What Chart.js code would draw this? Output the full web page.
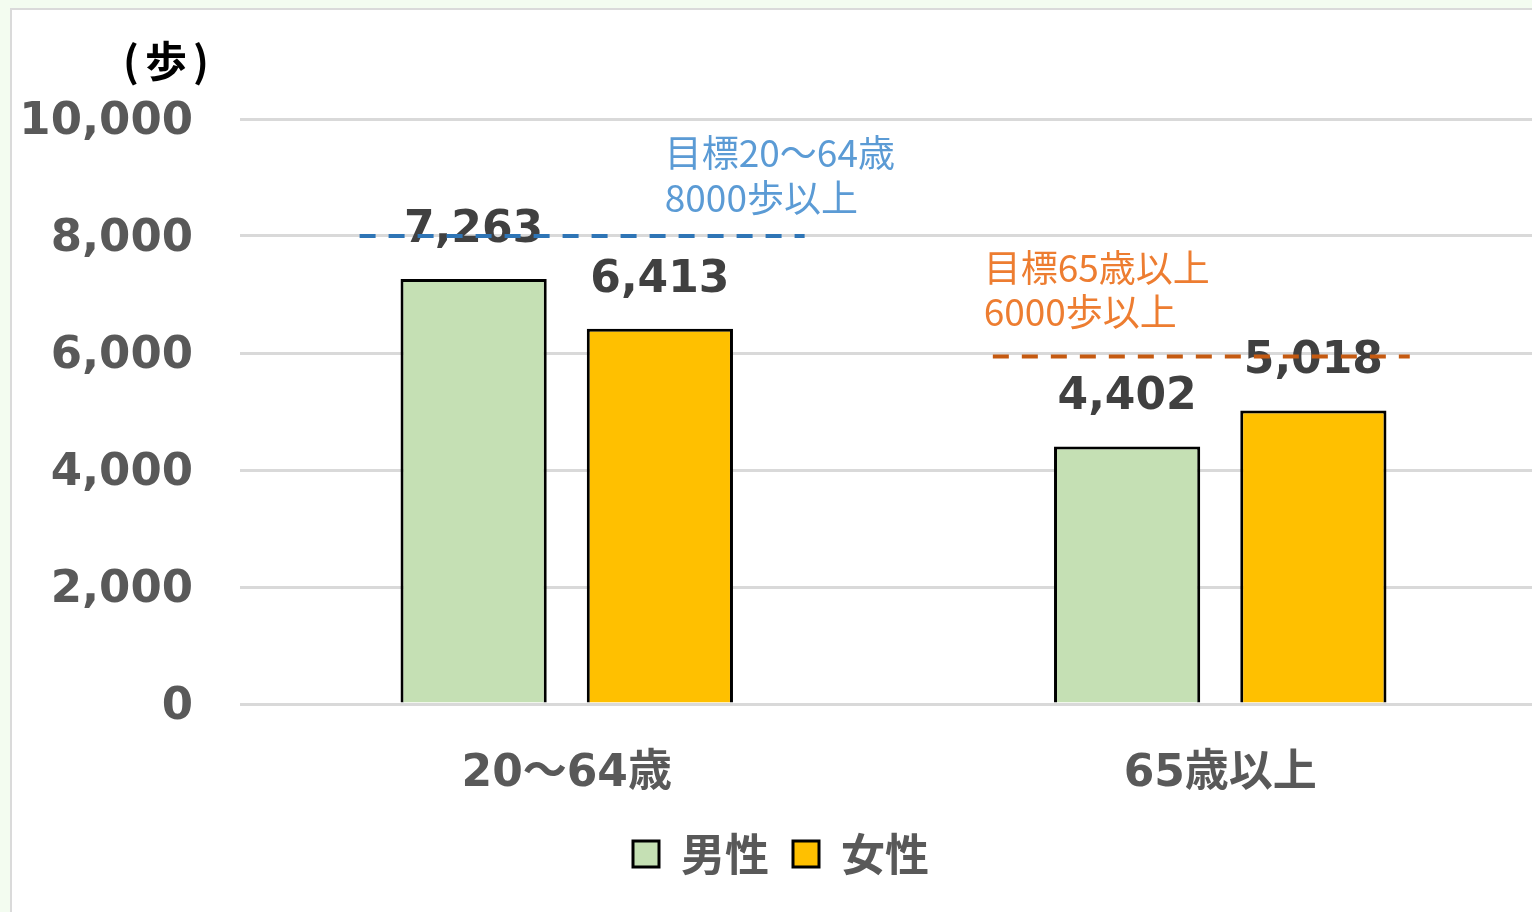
<!DOCTYPE html>
<html>
<head>
<meta charset="utf-8">
<script src="https://cdn.jsdelivr.net/npm/chart.js@4.4.1/dist/chart.umd.min.js"></script>
<style>
  html, body { margin: 0; padding: 0; width: 1532px; height: 912px; overflow: hidden; background: #f3fcf0; }
  #panel { position: absolute; left: 10px; top: 8px; width: 1600px; height: 1000px; background: #ffffff; border: 2px solid #dadada; box-sizing: border-box; }
  #wrap { position: absolute; left: 0; top: 0; width: 1560px; height: 912px; }
</style>
</head>
<body>
<div id="panel"></div>
<div id="wrap"><canvas id="c"></canvas></div>
<script>
// ---- data ----
const categories = ['20〜64歳', '65歳以上'];
const seriesNames = ['男性', '女性'];
const maleSteps = [7263, 4402];
const femaleSteps = [6413, 5018];
const yTickStep = 2000;
const yMax = 10000;
const axisUnit = '(歩)';
// target lines: x in category-index units, y in steps
const target1Line = [{ x: -0.317, y: 8000 }, { x: 0.364, y: 8000 }];
const target2Line = [{ x: 0.652, y: 5940 }, { x: 1.29, y: 5940 }];
const target1Text = ['目標20〜64歳', '8000歩以上'];
const target2Text = ['目標65歳以上', '6000歩以上'];
const target1TextPos = [{ x: 0.150, y: 9418 }, { x: 0.150, y: 8647 }];
const target2TextPos = [{ x: 0.638, y: 7449 }, { x: 0.638, y: 6695 }];

const BOLD_FONT = '"DejaVu Sans", "Noto Sans CJK JP", sans-serif';
const CJK_FONT = '"Noto Sans CJK JP", "DejaVu Sans", sans-serif';

function xPix(chart, v) {
  const xs = chart.scales.x;
  const p0 = xs.getPixelForValue(0), p1 = xs.getPixelForValue(1);
  return p0 + v * (p1 - p0);
}

const overlayPlugin = {
  id: 'overlay',
  afterDatasetsDraw(chart) {
    const ctx = chart.ctx;
    const ys = chart.scales.y;
    ctx.save();
    // value labels
    ctx.font = 'bold 44px ' + BOLD_FONT;
    ctx.fillStyle = '#404040';
    ctx.textAlign = 'center';
    ctx.textBaseline = 'alphabetic';
    chart.data.datasets.forEach((ds, di) => {
      const meta = chart.getDatasetMeta(di);
      meta.data.forEach((bar, i) => {
        ctx.fillText(ds.data[i].toLocaleString('en-US'), bar.x, bar.y - 37);
      });
    });
    // target lines
    const drawLine = (pts, color) => {
      ctx.beginPath();
      ctx.setLineDash([16, 13]);
      ctx.lineWidth = 4;
      ctx.strokeStyle = color;
      ctx.moveTo(xPix(chart, pts[0].x), ys.getPixelForValue(pts[0].y));
      ctx.lineTo(xPix(chart, pts[1].x), ys.getPixelForValue(pts[1].y));
      ctx.stroke();
      ctx.setLineDash([]);
    };
    drawLine(target1Line, '#2e75b6');
    drawLine(target2Line, '#c55a11');
    // target texts
    ctx.font = '37px ' + CJK_FONT;
    ctx.textAlign = 'left';
    ctx.textBaseline = 'middle';
    ctx.fillStyle = '#5b9bd5';
    target1Text.forEach((t, i) => ctx.fillText(t, xPix(chart, target1TextPos[i].x), ys.getPixelForValue(target1TextPos[i].y)));
    ctx.fillStyle = '#ed7d31';
    target2Text.forEach((t, i) => ctx.fillText(t, xPix(chart, target2TextPos[i].x), ys.getPixelForValue(target2TextPos[i].y)));
    // axis unit
    ctx.font = 'bold 42px ' + CJK_FONT;
    ctx.fillStyle = '#000000';
    ctx.textAlign = 'center';
    ctx.letterSpacing = '6px';
    ctx.fillText(axisUnit, chart.chartArea.left - 71, chart.chartArea.top - 58);
    ctx.restore();
  }
};

new Chart(document.getElementById('c'), {
  type: 'bar',
  data: {
    labels: categories,
    datasets: [
      { label: seriesNames[0], data: maleSteps, backgroundColor: '#c5e0b4', borderColor: '#000000', borderWidth: 3, borderSkipped: 'bottom' },
      { label: seriesNames[1], data: femaleSteps, backgroundColor: '#ffc000', borderColor: '#000000', borderWidth: 3, borderSkipped: 'bottom' }
    ]
  },
  options: {
    responsive: true,
    maintainAspectRatio: false,
    animation: false,
    datasets: { bar: { categoryPercentage: 0.57, barPercentage: 0.785 } },
    layout: { padding: { top: 119, right: 13, left: 15, bottom: 26 } },
    scales: {
      x: {
        grid: { display: false, drawTicks: false },
        border: { display: false },
        ticks: { color: '#595959', font: { family: BOLD_FONT, size: 44, weight: 'bold' }, padding: 44 },
        afterFit(s) { s.height = 104; }
      },
      y: {
        min: 0, max: yMax,
        grid: { color: '#d9d9d9', lineWidth: 3, drawTicks: false },
        border: { display: false },
        ticks: {
          stepSize: yTickStep, padding: 47, color: '#595959', labelOffset: 3,
          font: { family: BOLD_FONT, size: 45, weight: 'bold' },
          callback: v => v.toLocaleString('en-US')
        },
        afterFit(s) { s.width = 225; }
      }
    },
    plugins: {
      tooltip: { enabled: false },
      legend: {
        position: 'bottom',
        labels: {
          boxWidth: 26, boxHeight: 26, padding: 24,
          color: '#595959',
          font: { family: CJK_FONT, size: 44, weight: 'bold' }
        }
      }
    }
  },
  plugins: [overlayPlugin]
});
</script>
</body>
</html>
